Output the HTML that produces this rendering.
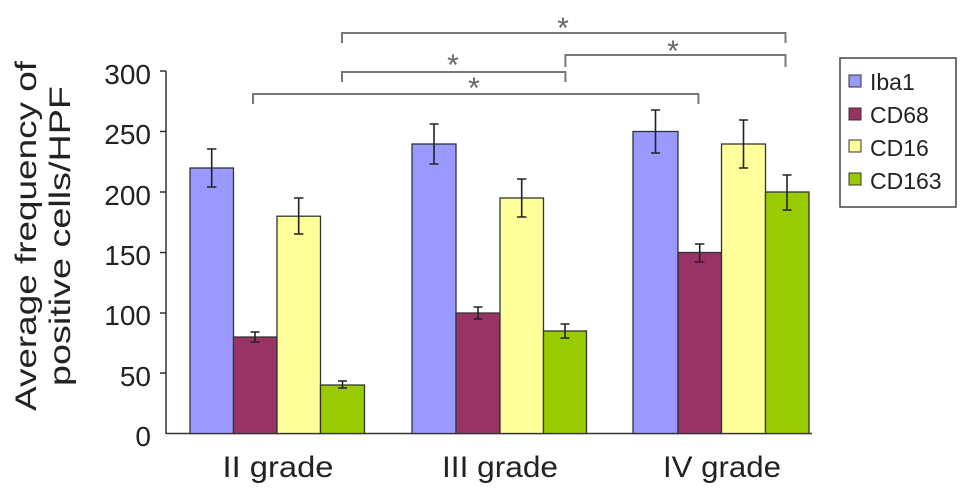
<!DOCTYPE html>
<html><head><meta charset="utf-8"><style>body{margin:0;background:#fff}svg{display:block}text{font-family:"Liberation Sans",sans-serif;fill:#222}</style></head><body>
<svg width="969" height="492" xmlns="http://www.w3.org/2000/svg">
<g stroke="#333" stroke-width="1.5" fill="none">
<line x1="166" y1="71" x2="166" y2="434"/>
<line x1="166" y1="433.5" x2="812" y2="433.5"/>
<line x1="160" y1="71" x2="166" y2="71"/><line x1="160" y1="131.5" x2="166" y2="131.5"/><line x1="160" y1="192" x2="166" y2="192"/><line x1="160" y1="252.5" x2="166" y2="252.5"/><line x1="160" y1="313" x2="166" y2="313"/><line x1="160" y1="373" x2="166" y2="373"/>
</g>
<g font-size="28" text-anchor="end">
<text x="151" y="84">300</text><text x="151" y="144">250</text><text x="151" y="205">200</text><text x="151" y="265">150</text><text x="151" y="325">100</text><text x="151" y="386">50</text><text x="151" y="446">0</text>
</g>
<text transform="translate(36,236) rotate(-90)" font-size="30" text-anchor="middle" textLength="350" lengthAdjust="spacingAndGlyphs">Average frequency of</text>
<text transform="translate(70,236) rotate(-90)" font-size="30" text-anchor="middle" textLength="300" lengthAdjust="spacingAndGlyphs">positive cells/HPF</text>
<g stroke="#333" stroke-width="1.3">
<rect x="190" y="168" width="43.5" height="265.5" fill="#9999ff"/>
<rect x="233.5" y="337" width="43.5" height="96.5" fill="#993366"/>
<rect x="277" y="216.2" width="43.5" height="217.3" fill="#ffff99"/>
<rect x="320.5" y="385" width="44" height="48.5" fill="#99cc00"/>
<rect x="412" y="144" width="44" height="289.5" fill="#9999ff"/>
<rect x="456" y="313" width="44" height="120.5" fill="#993366"/>
<rect x="500" y="198" width="43.5" height="235.5" fill="#ffff99"/>
<rect x="543.5" y="331" width="43" height="102.5" fill="#99cc00"/>
<rect x="633" y="131.5" width="45" height="302" fill="#9999ff"/>
<rect x="678" y="252.5" width="43.5" height="181" fill="#993366"/>
<rect x="721.5" y="144" width="44" height="289.5" fill="#ffff99"/>
<rect x="765.5" y="192" width="43.5" height="241.5" fill="#99cc00"/>
</g>
<g stroke="#222" stroke-width="1.6" fill="none">
<path d="M211.7 149v38M207 149h9.4M207 187h9.4"/>
<path d="M255 332v10M250.5 332h9M250.5 342h9"/>
<path d="M298.7 198v36M294 198h9.4M294 234h9.4"/>
<path d="M342.5 381v7M338 381h9M338 388h9"/>
<path d="M434 124v40M429.5 124h9M429.5 164h9"/>
<path d="M478 307v12M473.5 307h9M473.5 319h9"/>
<path d="M521.7 179v38M517 179h9.4M517 217h9.4"/>
<path d="M565 324v14M560.5 324h9M560.5 338h9"/>
<path d="M655.5 110v43M651 110h9M651 153h9"/>
<path d="M699.7 244v18M695 244h9.4M695 262h9.4"/>
<path d="M743.5 120v48M739 120h9M739 168h9"/>
<path d="M787 175v35M782.5 175h9M782.5 210h9"/>
</g>
<g stroke="#777" stroke-width="2" fill="none">
<path d="M342 43V33H785.5V43"/>
<path d="M565.4 67V55H785.5V67"/>
<path d="M342 82V72H565.4V82"/>
<path d="M253 104V94H698.4V104"/>
</g>
<g font-size="30" text-anchor="middle">
<text x="563" y="38" style="fill:#666">*</text>
<text x="673" y="61" style="fill:#666">*</text>
<text x="453" y="75" style="fill:#666">*</text>
<text x="474" y="98" style="fill:#666">*</text>
</g>
<g font-size="30" text-anchor="middle">
<text x="278" y="477" textLength="111" lengthAdjust="spacingAndGlyphs">II grade</text><text x="500" y="477" textLength="116" lengthAdjust="spacingAndGlyphs">III grade</text><text x="722" y="477" textLength="118" lengthAdjust="spacingAndGlyphs">IV grade</text>
</g>
<rect x="840" y="58" width="116" height="149" fill="#fff" stroke="#444" stroke-width="1.5"/>
<g stroke="#333" stroke-width="1">
<rect x="849" y="75" width="12" height="12" fill="#9999ff"/>
<rect x="849" y="108" width="12" height="12" fill="#993366"/>
<rect x="849" y="140" width="12" height="12" fill="#ffff99"/>
<rect x="849" y="173" width="12" height="12" fill="#99cc00"/>
</g>
<g font-size="23">
<text x="870" y="90">Iba1</text><text x="870" y="123">CD68</text><text x="870" y="156">CD16</text><text x="870" y="189">CD163</text>
</g>
</svg>
</body></html>
